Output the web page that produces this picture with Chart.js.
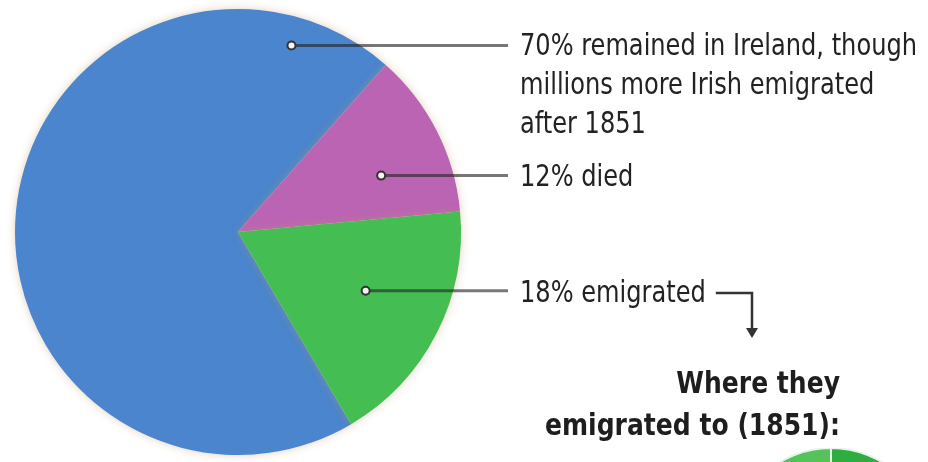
<!DOCTYPE html>
<html>
<head>
<meta charset="utf-8">
<script src="https://cdn.jsdelivr.net/npm/chart.js@4/dist/chart.umd.min.js"></script>
<style>
  html, body { margin: 0; padding: 0; background: #fff; overflow: hidden; }
  #wrap { position: relative; width: 928px; height: 462px; overflow: hidden; }
  #famine { position: absolute; left: 0; top: 0; }
  #dest { position: absolute; left: 731px; top: 448px; }
</style>
</head>
<body>
<div id="wrap">
  <canvas id="famine" width="928" height="462"></canvas>
  <canvas id="dest" width="200" height="200"></canvas>
</div>
<script>
// Famine outcome, percent of population
const categories = ["remained in Ireland", "died", "emigrated"];
const shares = [70, 12, 18];
const sliceColors = ["#4a85cd", "#bb64b3", "#44bd52"];

// callout text, one array of lines per slice
const calloutLines = [
    ["70% remained in Ireland, though", "millions more Irish emigrated", "after 1851"],
    ["12% died"],
    ["18% emigrated"],
];
const headingLines = ["Where they", "emigrated to (1851):"];

// next chart, only its top edge shows at the bottom right
const destShares = [50, 50];
const destColors = ["#2eae40", "#55c25c"];

const FONT = '"DejaVu Sans Condensed", "Liberation Sans", sans-serif';

// where the dot sits inside each slice: angle from top (deg) and fraction of radius
const dotSpots = [
    { angle: 16, frac: 0.87, textY: 47 },
    { angle: 68.5, frac: 0.69, textY: 178 },
    { angle: 114.7, frac: 0.63, textY: 294 },
];

// draw text squeezed horizontally so it fits a target width
function squeezed(ctx, text, x, y, sx) {
    ctx.save();
    ctx.translate(x, y);
    ctx.scale(sx, 1);
    ctx.fillText(text, 0, 0);
    ctx.restore();
}

const calloutPlugin = {
    id: "callouts",
    afterDraw(chart) {
        const ctx = chart.ctx;
        const arc = chart.getDatasetMeta(0).data[0];
        const cx = arc.x, cy = arc.y, r = arc.outerRadius;
        const textX = 520;

        ctx.save();
        ctx.font = "30px " + FONT;
        const sx = 397 / ctx.measureText(calloutLines[0][0]).width;

        dotSpots.forEach((spot, i) => {
            const a = (spot.angle - 90) * Math.PI / 180;
            const dx = cx + Math.cos(a) * r * spot.frac;
            const dy = cy + Math.sin(a) * r * spot.frac;

            // leader line
            ctx.strokeStyle = "rgba(35,35,35,0.62)";
            ctx.lineWidth = 3;
            ctx.beginPath();
            ctx.moveTo(dx, dy);
            ctx.lineTo(textX - 12, dy);
            ctx.stroke();

            // dot
            ctx.beginPath();
            ctx.arc(dx, dy, 4, 0, Math.PI * 2);
            ctx.fillStyle = "#f4f4f4";
            ctx.fill();
            ctx.lineWidth = 2;
            ctx.strokeStyle = "#333";
            ctx.stroke();

            // text
            ctx.fillStyle = "#222";
            ctx.font = "30px " + FONT;
            ctx.textAlign = "left";
            ctx.textBaseline = "middle";
            calloutLines[i].forEach((line, j) => {
                squeezed(ctx, line, textX, spot.textY + j * 39, sx);
            });
        });

        // arrow from "18% emigrated" down to the next chart
        const w = ctx.measureText(calloutLines[2][0]).width * sx;
        const ax = textX + w + 10;
        ctx.strokeStyle = "#333";
        ctx.lineWidth = 2.5;
        ctx.beginPath();
        ctx.moveTo(ax, 293);
        ctx.lineTo(752, 293);
        ctx.lineTo(752, 330);
        ctx.stroke();
        ctx.beginPath();
        ctx.moveTo(746, 328);
        ctx.lineTo(758, 328);
        ctx.lineTo(752, 338);
        ctx.closePath();
        ctx.fillStyle = "#333";
        ctx.fill();

        // heading for the next chart
        ctx.font = "bold 30px " + FONT;
        ctx.textAlign = "right";
        ctx.fillStyle = "#1e1e1e";
        const hx = 295 / ctx.measureText(headingLines[1]).width;
        squeezed(ctx, headingLines[0], 840, 385, hx);
        squeezed(ctx, headingLines[1], 840, 427, hx);
        ctx.restore();
    },
};

const shadowPlugin = {
    id: "pieShadow",
    beforeDatasetsDraw(chart) {
        chart.ctx.save();
        chart.ctx.shadowColor = "rgba(190,150,110,0.45)";
        chart.ctx.shadowBlur = 8;
    },
    afterDatasetsDraw(chart) {
        chart.ctx.restore();
    },
};

new Chart(document.getElementById("famine"), {
    type: "pie",
    data: {
        labels: categories,
        datasets: [
            {
                data: shares,
                backgroundColor: sliceColors,
                borderWidth: 0,
                radius: 223,
            },
        ],
    },
    options: {
        responsive: false,
        animation: false,
        rotation: 149.5,
        layout: { padding: { left: 0, right: 452, top: 2, bottom: 0 } },
        plugins: {
            legend: { display: false },
            tooltip: { enabled: false },
        },
    },
    plugins: [shadowPlugin, calloutPlugin],
});

new Chart(document.getElementById("dest"), {
    type: "pie",
    data: {
        labels: ["a", "b"],
        datasets: [
            {
                data: destShares,
                backgroundColor: destColors,
                borderColor: "#e8f4e8",
                borderWidth: 2,
                radius: 100,
            },
        ],
    },
    options: {
        responsive: false,
        animation: false,
        rotation: 0,
        plugins: {
            legend: { display: false },
            tooltip: { enabled: false },
        },
    },
});
</script>
</body>
</html>
